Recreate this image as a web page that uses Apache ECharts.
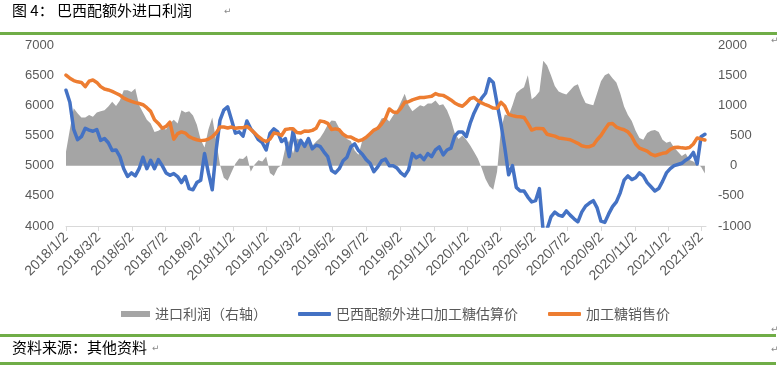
<!DOCTYPE html>
<html><head><meta charset="utf-8">
<script src="https://cdn.jsdelivr.net/npm/echarts@6/dist/echarts.min.js"></script>
<style>html,body{margin:0;padding:0;background:#fff}#c{width:779px;height:373px}</style>
</head><body><div id="c"></div>
<script>
// ---- data (weekly samples, starting 2018/1/2) ----
const startDate = [2018, 0, 2];
const stepDays = 7;
const axisEnd = [2021, 2, 11];
const tickLabels = ['2018/1/2','2018/3/2','2018/5/2','2018/7/2','2018/9/2','2018/11/2',
  '2019/1/2','2019/3/2','2019/5/2','2019/7/2','2019/9/2','2019/11/2',
  '2020/1/2','2020/3/2','2020/5/2','2020/7/2','2020/9/2','2020/11/2',
  '2021/1/2','2021/3/2'];
const seriesNames = ['进口利润（右轴）', '巴西配额外进口加工糖估算价', '加工糖销售价'];

// 进口利润（右轴）
const profit = [
  230, 600, 950, 870, 800, 800, 840, 810, 880, 900,
  920, 980, 1060, 990, 1080, 1250, 1250, 1220, 1280, 1000,
  880, 760, 700, 560, 580, 620, 600, 700, 760, 700,
  920, 880, 900, 830, 680, 430, 300, 600, 800, 420,
  20, -200, -250, -110, 30, 120, 110, 170, -100, 20,
  90, 70, 150, -120, -170, -40, 10, 300, 420, 200,
  450, 420, 330, 470, 330, 400, 460, 560, 680, 750,
  740, 620, 520, 440, 410, 250, 180, 420, 470, 560,
  590, 660, 780, 800, 730, 830, 920, 1050, 1190, 1000,
  900, 950, 1000, 980, 1030, 1030, 1080, 1000, 1020, 920,
  760, 540, 440, 500, 430, 340, 230, 120, -40, -220,
  -340, -400, -100, 600, 850, 830, 1000, 1200, 1260, 1300,
  1500, 1100, 1150, 1230, 1740, 1660, 1500, 1320, 1230, 1200,
  1180, 1250, 1320, 1350, 1170, 1040, 1020, 1000, 1200, 1400,
  1500, 1530, 1450, 1380, 1200, 980, 840, 740, 580, 460,
  430, 540, 580, 590, 560, 430, 380, 400, 300, 230,
  160, 200, 95, 70, 20, -20, -130
];
// 巴西配额外进口加工糖估算价
const estPrice = [
  6250, 6050, 5600, 5430, 5480, 5620, 5590, 5570, 5600, 5420,
  5450, 5380, 5250, 5260, 5150, 4950, 4820, 4880, 4830, 4950,
  5140, 4950, 5090, 4950, 5100, 5000, 4880, 4840, 4870, 4820,
  4720, 4820, 4620, 4600, 4720, 4760, 5200, 4880, 4600, 5250,
  5750, 5920, 5975, 5760, 5540, 5560, 5490, 5740, 5610, 5535,
  5430, 5380, 5260, 5535, 5610, 5560, 5400, 5450, 5150, 5580,
  5250, 5420, 5320, 5450, 5280, 5340, 5320, 5230, 5150, 4920,
  4880, 4950, 5080, 5140, 5310, 5360, 5250, 5190, 5100, 5040,
  4900, 4980, 5080, 5110, 5000, 5000, 4960, 4880, 4830, 4930,
  5200, 5130, 5170, 5100, 5200, 5150, 5260, 5310, 5180, 5260,
  5290, 5490, 5560, 5560, 5480, 5700, 5870, 6000, 6120, 6200,
  6440, 6380, 6030, 5700, 5300, 4850, 5000, 4640, 4580, 4580,
  4480, 4400, 4420, 4620, 3900, 3950, 4150, 4230, 4180, 4160,
  4250, 4180, 4120, 4070, 4230, 4330, 4380, 4420, 4300, 4080,
  4060, 4200, 4320, 4400, 4550, 4760, 4830, 4770, 4800, 4880,
  4830, 4720, 4650, 4580, 4620, 4740, 4880, 4950, 5000, 5020,
  5040, 5090, 5130, 5220, 5030, 5480, 5520
];
// 加工糖销售价
const salePrice = [
  6500, 6450, 6410, 6390, 6380, 6310, 6400, 6420, 6380, 6310,
  6270, 6255, 6230, 6200, 6170, 6120, 6090, 6065, 6045, 6030,
  6010, 5960, 5900, 5760, 5700, 5620, 5650, 5720, 5440, 5530,
  5560, 5540, 5480, 5450, 5430, 5415, 5420, 5440, 5480, 5540,
  5640, 5640, 5625, 5640, 5620, 5630, 5630, 5650, 5600, 5540,
  5480, 5430, 5400, 5440, 5540, 5530, 5500, 5600, 5610, 5610,
  5550, 5540, 5575, 5570, 5585, 5620, 5740, 5730, 5700, 5600,
  5610, 5595, 5520, 5480, 5475, 5440, 5410, 5430, 5470, 5530,
  5590, 5620, 5690, 5780, 5940, 5890, 5880, 5950, 6050, 6060,
  6090, 6110, 6130, 6130, 6140, 6150, 6195, 6170, 6165, 6130,
  6090, 6040, 6005, 5985, 6040, 6110, 6130, 6080, 6040, 6010,
  5985, 5955, 5950, 6050, 5990, 5850, 5830, 5815, 5810, 5800,
  5700, 5590, 5615, 5615, 5610, 5520, 5505, 5490, 5460, 5450,
  5440, 5430, 5400, 5370, 5330, 5315, 5315, 5340, 5430, 5500,
  5600, 5690, 5700, 5640, 5615, 5595, 5560, 5480, 5360, 5290,
  5265, 5240, 5190, 5165, 5185, 5205, 5215, 5270, 5300, 5305,
  5295, 5290, 5300, 5360, 5460, 5440, 5425
];

// ---- build: x is days since startDate ----
const DAY = 86400000;
const t0 = new Date(startDate[0], startDate[1], startDate[2]).getTime();
function dayOf(ms) { return Math.round((ms - t0) / DAY); }
function pair(arr) { return arr.map((v, i) => [i * stepDays, v]); }
const tickDays = tickLabels.map(s => { const p = s.split('/').map(Number); return dayOf(new Date(p[0], p[1] - 1, p[2]).getTime()); });
const endDay = dayOf(new Date(axisEnd[0], axisEnd[1], axisEnd[2]).getTime());
function fmtDate(v) { const d = new Date(t0 + v * DAY + DAY / 2); return d.getFullYear() + '/' + (d.getMonth() + 1) + '/' + d.getDate(); }

const AXIS_FONT = 'Liberation Sans';
const CJK_FONT = 'Noto Sans CJK SC';
const labelColor = '#595959';

const chart = echarts.init(document.getElementById('c'), null, { renderer: 'canvas' });
const legendText = { fontFamily: CJK_FONT, fontSize: 14, color: labelColor };
chart.setOption({
  animation: false,
  backgroundColor: '#fff',
  grid: { left: 66, right: 73, top: 45, bottom: 147, containLabel: false },
  xAxis: {
    type: 'value',
    min: 0,
    max: endDay,
    axisLine: { show: true, onZero: false, lineStyle: { color: '#D9D9D9', width: 1 } },
    axisTick: { show: true, customValues: tickDays, length: 5, lineStyle: { color: '#D9D9D9' } },
    axisLabel: { customValues: tickDays, formatter: fmtDate, rotate: 45, margin: 9,
      fontFamily: AXIS_FONT, fontSize: 14, color: labelColor, hideOverlap: false },
    splitLine: { show: false }
  },
  yAxis: [
    { type: 'value', min: 4000, max: 7000, interval: 500, position: 'left',
      axisLine: { show: false }, axisTick: { show: false }, splitLine: { show: false },
      axisLabel: { margin: 12, fontFamily: AXIS_FONT, fontSize: 13, color: labelColor, formatter: v => String(v) } },
    { type: 'value', min: -1000, max: 2000, interval: 500, position: 'right',
      axisLine: { show: false }, axisTick: { show: false }, splitLine: { show: false },
      axisLabel: { margin: 12, align: 'left', fontFamily: AXIS_FONT, fontSize: 13, color: labelColor,
        formatter: v => (v === 500 || v === 0) ? '{p|' + v + '}' : String(v),
        rich: { p: { padding: [0, 0, 0, 12], fontFamily: AXIS_FONT, fontSize: 13, color: labelColor } } } }
  ],
  legend: [
    { data: [{ name: seriesNames[0], icon: 'rect' }], left: 116, top: 302, itemWidth: 29, itemHeight: 6,
      selectedMode: false, textStyle: legendText },
    { data: [{ name: seriesNames[1], icon: 'roundRect' }], left: 293, top: 302, itemWidth: 33, itemHeight: 4,
      selectedMode: false, textStyle: legendText },
    { data: [{ name: seriesNames[2], icon: 'roundRect' }], left: 543, top: 302, itemWidth: 33, itemHeight: 4,
      selectedMode: false, textStyle: legendText }
  ],
  series: [
    { name: seriesNames[0], type: 'line', yAxisIndex: 1, data: pair(profit), symbol: 'none',
      itemStyle: { color: '#A5A5A5' }, lineStyle: { width: 0, opacity: 0 },
      areaStyle: { color: '#A5A5A5', opacity: 1 } },
    { name: seriesNames[1], type: 'line', yAxisIndex: 0, data: pair(estPrice), symbol: 'none',
      itemStyle: { color: '#4472C4' }, lineStyle: { width: 3.5, color: '#4472C4', join: 'round', cap: 'round' } },
    { name: seriesNames[2], type: 'line', yAxisIndex: 0, data: pair(salePrice), symbol: 'none',
      itemStyle: { color: '#ED7D31' }, lineStyle: { width: 3.5, color: '#ED7D31', join: 'round', cap: 'round' } }
  ],
  graphic: [
    { type: 'rect', shape: { x: 0, y: 32, width: 777, height: 3 }, style: { fill: '#70AD47' } },
    { type: 'rect', shape: { x: 0, y: 334, width: 776, height: 3 }, style: { fill: '#70AD47' } },
    { type: 'rect', shape: { x: 0, y: 362, width: 776, height: 3 }, style: { fill: '#70AD47' } },
    { type: 'text', left: 12, top: 3, style: { text: '图 4： 巴西配额外进口利润', fontFamily: CJK_FONT, fontSize: 15, fill: '#000' } },
    { type: 'text', left: 224, top: 7, style: { text: '↵', fontFamily: 'DejaVu Sans', fontSize: 9, fill: '#888' } },
    { type: 'text', left: 12, top: 340, style: { text: '资料来源：其他资料', fontFamily: CJK_FONT, fontSize: 15, fill: '#000' } },
    { type: 'text', left: 152, top: 344, style: { text: '↵', fontFamily: 'DejaVu Sans', fontSize: 9, fill: '#888' } },
    { type: 'text', left: 771, top: 36, style: { text: '↵', fontFamily: 'DejaVu Sans', fontSize: 9, fill: '#888' } },
    { type: 'text', left: 771, top: 325, style: { text: '↵', fontFamily: 'DejaVu Sans', fontSize: 9, fill: '#888' } },
    { type: 'text', left: 771, top: 345, style: { text: '↵', fontFamily: 'DejaVu Sans', fontSize: 9, fill: '#888' } }
  ]
});
</script></body></html>
